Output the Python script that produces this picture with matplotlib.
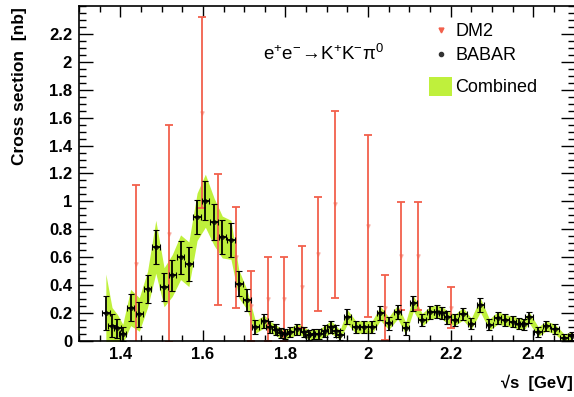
import numpy as np
import matplotlib.pyplot as plt
from matplotlib.ticker import MultipleLocator
from matplotlib.patches import Rectangle

plt.rcParams['font.family'] = ['Liberation Sans', 'DejaVu Sans']
plt.rcParams['mathtext.fontset'] = 'custom'
plt.rcParams['mathtext.rm'] = 'Liberation Sans'
plt.rcParams['mathtext.it'] = 'Liberation Sans:italic'

# BABAR e+e- -> K+K-pi0 cross section [nb] vs sqrt(s) [GeV]
babar_e = [1.365, 1.380, 1.393, 1.406, 1.425, 1.446, 1.466, 1.486, 1.506, 1.526,
           1.546, 1.566, 1.586, 1.606, 1.627, 1.647, 1.668, 1.687, 1.707, 1.727,
           1.749, 1.763, 1.776, 1.788, 1.800, 1.812, 1.829, 1.845, 1.857, 1.869,
           1.881, 1.895, 1.910, 1.922, 1.932, 1.950, 1.970, 1.990, 2.010, 2.030,
           2.050, 2.072, 2.091, 2.110, 2.131, 2.151, 2.168, 2.180, 2.192, 2.210,
           2.230, 2.250, 2.272, 2.294, 2.314, 2.332, 2.350, 2.365, 2.378, 2.390,
           2.412, 2.432, 2.453, 2.475, 2.494]
babar_xs = [0.20, 0.11, 0.09, 0.05, 0.24, 0.19, 0.37, 0.675, 0.385, 0.47,
            0.60, 0.55, 0.89, 1.005, 0.855, 0.745, 0.725, 0.41, 0.295, 0.10,
            0.14, 0.10, 0.08, 0.055, 0.048, 0.062, 0.085, 0.067, 0.043, 0.048,
            0.048, 0.072, 0.10, 0.072, 0.043, 0.174, 0.10, 0.10, 0.10, 0.198,
            0.126, 0.21, 0.09, 0.27, 0.152, 0.205, 0.21, 0.20, 0.17, 0.15,
            0.195, 0.123, 0.258, 0.117, 0.165, 0.15, 0.138, 0.125, 0.12, 0.17,
            0.067, 0.108, 0.085, 0.02, 0.035]
babar_err = [0.12, 0.08, 0.07, 0.05, 0.10, 0.09, 0.10, 0.12, 0.10, 0.11,
             0.12, 0.12, 0.12, 0.14, 0.13, 0.12, 0.12, 0.09, 0.08, 0.05,
             0.05, 0.045, 0.04, 0.035, 0.035, 0.035, 0.04, 0.035, 0.035, 0.035,
             0.035, 0.04, 0.045, 0.04, 0.035, 0.055, 0.045, 0.045, 0.045, 0.05,
             0.045, 0.05, 0.045, 0.055, 0.045, 0.045, 0.045, 0.045, 0.045, 0.04,
             0.045, 0.04, 0.05, 0.04, 0.045, 0.04, 0.04, 0.04, 0.04, 0.04,
             0.035, 0.035, 0.035, 0.03, 0.03]

# half width of the combined band at each BABAR point
comb_hw = [0.28, 0.13, 0.10, 0.07, 0.13, 0.12, 0.13, 0.19, 0.14, 0.15,
           0.16, 0.16, 0.17, 0.19, 0.17, 0.15, 0.14, 0.10, 0.07, 0.045,
           0.045, 0.04, 0.04, 0.035, 0.035, 0.035, 0.04, 0.035, 0.035, 0.035,
           0.035, 0.04, 0.045, 0.04, 0.035, 0.05, 0.045, 0.045, 0.045, 0.05,
           0.045, 0.05, 0.045, 0.055, 0.045, 0.045, 0.045, 0.045, 0.045, 0.04,
           0.045, 0.04, 0.05, 0.04, 0.045, 0.04, 0.04, 0.04, 0.04, 0.04,
           0.035, 0.035, 0.035, 0.03, 0.03]

# DM2 points
dm2_e = [1.437, 1.517, 1.597, 1.636, 1.680, 1.717, 1.758, 1.796, 1.839,
         1.880, 1.920, 2.000, 2.040, 2.080, 2.120, 2.200]
dm2_xs = [0.55, 0.77, 1.635, 0.73, 0.60, 0.25, 0.30, 0.30, 0.385,
          0.625, 0.98, 0.825, 0.24, 0.61, 0.61, 0.24]
dm2_err = [0.57, 0.78, 0.685, 0.47, 0.36, 0.25, 0.30, 0.30, 0.295,
           0.41, 0.67, 0.65, 0.235, 0.385, 0.385, 0.145]

RED = '#f2604c'
GREEN = '#bff03c'

fig = plt.figure(figsize=(5.74, 3.97), dpi=100)
ax = fig.add_axes([79 / 574, 56 / 397, 495.5 / 574, 335 / 397])

e = np.array(babar_e)
xs = np.array(babar_xs)
hw = np.array(comb_hw)
ax.fill_between(e, xs - hw, xs + hw, color=GREEN, lw=0, zorder=1)

ax.errorbar(dm2_e, dm2_xs, yerr=dm2_err, fmt='none', ecolor=RED,
            elinewidth=1.3, capsize=3, capthick=1.3, zorder=2)
ax.plot(dm2_e, dm2_xs, 'v', color=RED, ms=2.5, alpha=0.35, zorder=2)

ax.errorbar(babar_e, babar_xs, yerr=babar_err, xerr=0.009, fmt='o',
            color='black', ms=2.5, mfc='none', mew=0.8,
            elinewidth=1.3, capsize=2.2, capthick=1.2, zorder=3)

ax.set_xlim(1.3, 2.5)
ax.set_ylim(0, 2.4)
ax.xaxis.set_major_locator(MultipleLocator(0.2))
ax.xaxis.set_minor_locator(MultipleLocator(0.05))
ax.yaxis.set_major_locator(MultipleLocator(0.2))
ax.yaxis.set_minor_locator(MultipleLocator(0.05))
ax.set_xticks([1.4, 1.6, 1.8, 2.0, 2.2, 2.4])
ax.set_xticklabels(['1.4', '1.6', '1.8', '2', '2.2', '2.4'])
ax.set_yticks(np.arange(0, 2.3, 0.2))
ax.set_yticklabels(['0', '0.2', '0.4', '0.6', '0.8', '1', '1.2', '1.4',
                    '1.6', '1.8', '2', '2.2'])

ax.tick_params(which='both', direction='in', top=True, right=True, width=1.0)
ax.tick_params(axis='x', which='major', length=8, pad=4)
ax.tick_params(axis='x', which='minor', length=4.5)
ax.tick_params(axis='y', which='major', length=10, pad=5)
ax.tick_params(axis='y', which='minor', length=5)
for lab in ax.get_xticklabels() + ax.get_yticklabels():
    lab.set_fontsize(12)
    lab.set_fontweight('bold')
for sp in ax.spines.values():
    sp.set_linewidth(1.2)

ax.set_ylabel('Cross section  [nb]', fontsize=12.5, fontweight='bold', loc='top')
ax.yaxis.set_label_coords(-0.105, 0.998)
ax.set_xlabel('\u221as  [GeV]', fontsize=12, fontweight='bold', loc='right')
ax.xaxis.set_label_coords(0.997, -0.1)

ax.text(0.371, 0.857, r'$\mathrm{e^{+}e^{-}\!\rightarrow\! K^{+}K^{-}\pi^{0}}$',
        transform=ax.transAxes, fontsize=13.5, va='center', ha='left')

# legend
ax.plot([0.731], [0.928], 'v', color=RED, ms=3.5, transform=ax.transAxes, clip_on=False)
ax.text(0.759, 0.925, 'DM2', transform=ax.transAxes, fontsize=13, va='center')
ax.plot([0.731], [0.856], 'o', color='#333333', ms=3, transform=ax.transAxes)
ax.text(0.759, 0.853, 'BABAR', transform=ax.transAxes, fontsize=13, va='center')
ax.add_patch(Rectangle((0.707, 0.731), 0.046, 0.057, transform=ax.transAxes,
                       color=GREEN, lw=0))
ax.text(0.759, 0.758, 'Combined', transform=ax.transAxes, fontsize=13, va='center')

fig.savefig('out.png', dpi=100)
